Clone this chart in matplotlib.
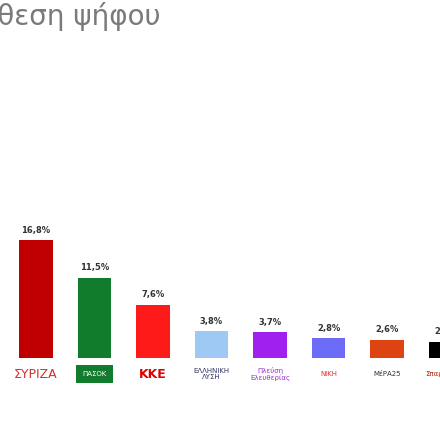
import matplotlib.pyplot as plt

parties = ["ΝΔ", "ΣΥΡΙΖΑ", "ΠΑΣΟΚ", "ΚΚΕ", "ΕΛΛΗΝΙΚΗ\nΛΥΣΗ", "Πλεύση\nΕλευθερίας", "ΝΙΚΗ", "ΜέΡΑ25", "Σπαρτιάτες"]
values = [33.0, 16.8, 11.5, 7.6, 3.8, 3.7, 2.8, 2.6, 2.3]
colors = ["#1f6fc4", "#c00000", "#107c2c", "#ff1a1a", "#9ec9f5", "#a020f0", "#6b6bf5", "#dd4411", "#000000"]
label_colors = ["#1f6fc4", "#d03030", "#ffffff", "#e00000", "#333366", "#9b30c8", "#e03030", "#333333", "#aa2200"]

fig = plt.figure(figsize=(4.4, 4.4), dpi=100)
ax = fig.add_axes([0, 0, 1, 1])
pos = list(range(len(values)))
ax.bar(pos, values, width=0.58, color=colors)
# pixel mapping: bar 1 centre at x=36, step 58.5 px; base at y=358, 7 px per %
step = 58.5
ax.set_xlim(1 - 36 / step, 1 + (440 - 36) / step)
ax.set_ylim(-82 / 7, 358 / 7)
ax.axis("off")

for p, v in zip(pos, values):
    ax.text(p, v + 0.8, f"{v:.1f}%".replace(".", ","), ha="center", va="bottom",
            fontsize=6, fontweight="bold", color="#333333")

for p, name, lc in zip(pos, parties, label_colors):
    kw = {}
    if name == "ΠΑΣΟΚ":
        kw["bbox"] = dict(boxstyle="square,pad=0.9", fc="#107c2c", ec="none")
    fs = 9 if name in ("ΣΥΡΙΖΑ", "ΚΚΕ") else 5
    ax.text(p, -2.3, name, ha="center", va="center", fontsize=fs, color=lc,
            fontweight="bold" if name == "ΚΚΕ" else "normal", linespacing=1.0, **kw)

fig.text(160 / 440, 1 - 16 / 440, "Πρόθεση ψήφου", ha="right", va="center",
         fontsize=20, color="#7a7a7a")

fig.savefig("out.png", dpi=100, facecolor="white")
